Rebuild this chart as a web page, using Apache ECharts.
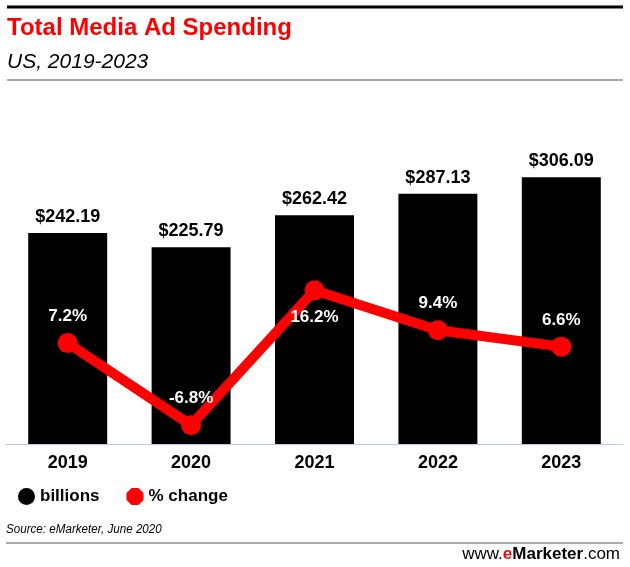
<!DOCTYPE html>
<html>
<head>
<meta charset="utf-8">
<style>
  html, body { margin: 0; padding: 0; background: #fff; }
  #chart { width: 630px; height: 567px; }
</style>
<script src="https://cdn.jsdelivr.net/npm/echarts@6/dist/echarts.min.js"></script>
</head>
<body>
<div id="chart"></div>
<script>
// ---- data ----
const years = ['2019', '2020', '2021', '2022', '2023'];
const billions = [242.19, 225.79, 262.42, 287.13, 306.09];
const pctChange = [7.2, -6.8, 16.2, 9.4, 6.6];
const seriesNames = ['billions', '% change'];
const titleText = 'Total Media Ad Spending';
const subtitleText = 'US, 2019-2023';
const sourceText = 'Source: eMarketer, June 2020';

// ---- chart ----
const FONT = '"Liberation Sans", Arial, sans-serif';
const chart = echarts.init(document.getElementById('chart'), null, { renderer: 'canvas' });

const octagon = 'path://M30,0 L70,0 L100,30 L100,70 L70,100 L30,100 L0,70 L0,30 Z';

const lineData = pctChange.map((v, i) => {
  // the peak point has its label drawn below the marker
  const isPeak = i > 0 && i < pctChange.length - 1 && v > pctChange[i - 1] && v > pctChange[i + 1];
  return isPeak ? { value: v, label: { position: 'bottom' } } : v;
});

const option = {
  animation: false,
  textStyle: { fontFamily: FONT },
  grid: { left: 6, right: 7, top: 139, bottom: 123, containLabel: false },
  legend: {
    left: 13,
    top: 483,
    itemWidth: 17,
    itemHeight: 17,
    itemGap: 27,
    textStyle: { fontFamily: FONT, fontWeight: 'bold', fontSize: 17, color: '#000' },
    data: [
      { name: seriesNames[0], icon: 'circle', itemStyle: { color: '#000' } },
      { name: seriesNames[1], icon: octagon, itemStyle: { color: '#ff0000' } }
    ]
  },
  xAxis: {
    type: 'category',
    data: years,
    axisLine: { show: true, lineStyle: { color: '#bcc6ec', width: 1 } },
    axisTick: { show: false },
    axisLabel: { margin: 10, fontFamily: FONT, fontWeight: 'bold', fontSize: 18, color: '#000' }
  },
  yAxis: [
    { type: 'value', min: 0, max: 350, interval: 50, show: false, splitLine: { show: false } },
    { type: 'value', min: -10, max: 42, interval: 2, show: false, splitLine: { show: false } }
  ],
  series: [
    {
      name: seriesNames[0],
      type: 'bar',
      data: billions,
      barWidth: '64%',
      itemStyle: { color: '#000' },
      label: {
        show: true,
        position: 'top',
        distance: 7,
        fontFamily: FONT,
        fontWeight: 'bold',
        fontSize: 18,
        color: '#000',
        formatter: p => '$' + p.value.toFixed(2)
      },
      z: 2
    },
    {
      name: seriesNames[1],
      type: 'line',
      yAxisIndex: 1,
      data: lineData,
      symbol: 'circle',
      symbolSize: 20,
      lineStyle: { color: '#ff0000', width: 10 },
      itemStyle: { color: '#ff0000' },
      label: {
        show: true,
        position: 'top',
        distance: 8,
        fontFamily: FONT,
        fontWeight: 'bold',
        fontSize: 17,
        color: '#fff',
        formatter: p => p.value.toFixed(1) + '%'
      },
      z: 3
    }
  ],
  graphic: [
    { type: 'line', shape: { x1: 7, y1: 7, x2: 623, y2: 7 }, style: { stroke: '#000', lineWidth: 3 } },
    { type: 'text', style: { text: titleText, x: 7, y: 28, font: 'bold 24px ' + FONT, fill: '#ff0000', textAlign: 'left', textVerticalAlign: 'middle' } },
    { type: 'text', style: { text: subtitleText, x: 7, y: 62, font: 'italic 21px ' + FONT, fill: '#000', textAlign: 'left', textVerticalAlign: 'middle' } },
    { type: 'line', shape: { x1: 7, y1: 80, x2: 623, y2: 80 }, style: { stroke: '#aaaaaa', lineWidth: 2 } },
    { type: 'text', x: 6, y: 530, scaleX: 0.93, style: { text: sourceText, x: 0, y: 0, font: 'italic 12.5px ' + FONT, fill: '#000', textAlign: 'left', textVerticalAlign: 'middle' } },
    { type: 'line', shape: { x1: 6, y1: 543, x2: 623, y2: 543 }, style: { stroke: '#aaaaaa', lineWidth: 2 } },
    {
      type: 'text',
      style: {
        text: '{a|www.}{b|e}{c|Marketer}{a|.com}',
        x: 620, y: 554,
        textAlign: 'right', textVerticalAlign: 'middle',
        font: '17px ' + FONT,
        rich: {
          a: { fontFamily: FONT, fontSize: 17, fill: '#000', color: '#000' },
          b: { fontFamily: FONT, fontSize: 17, fontWeight: 'bold', fill: '#ff0000', color: '#ff0000' },
          c: { fontFamily: FONT, fontSize: 17, fontWeight: 'bold', fill: '#000', color: '#000' }
        }
      }
    }
  ]
};

chart.setOption(option);
</script>
</body>
</html>
